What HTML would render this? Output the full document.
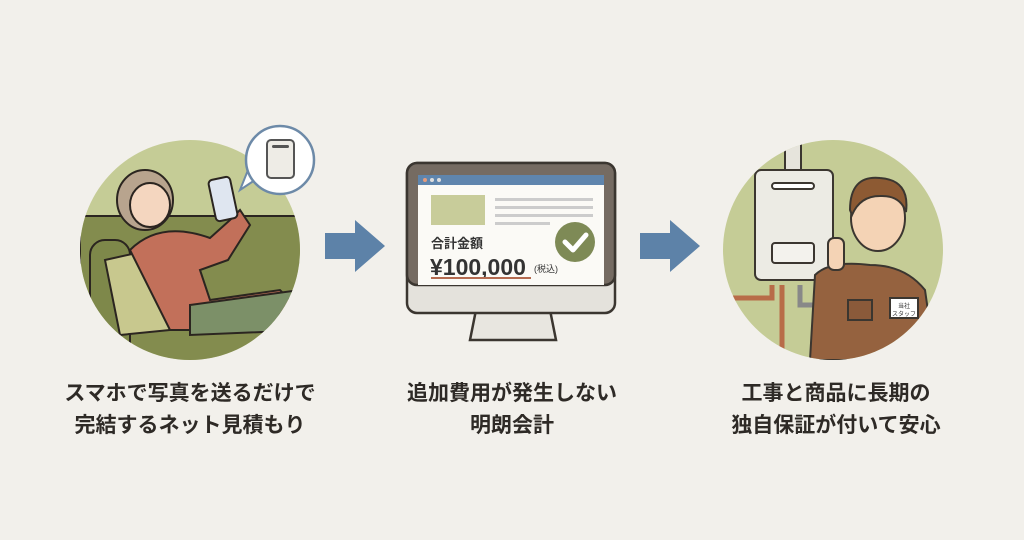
<!DOCTYPE html>
<html><head><meta charset="utf-8"><style>
body{margin:0;background:#f2f0eb;}
svg{display:block}
text{font-family:"Liberation Sans","Noto Sans CJK JP",sans-serif;}
</style></head><body>
<svg width="1024" height="540" viewBox="0 0 1024 540">
<rect width="1024" height="540" fill="#f2f0eb"/>
<defs>
<clipPath id="c1"><circle cx="190" cy="250" r="110"/></clipPath>
<clipPath id="c2"><circle cx="833" cy="250" r="110"/></clipPath>
</defs>
<circle cx="190" cy="250" r="110" fill="#c5cc96"/>
<g clip-path="url(#c1)" stroke="#2b2520" stroke-width="2">
<rect x="80" y="216" width="230" height="150" fill="#838c4e"/>
<rect x="90" y="240" width="40" height="120" rx="15" fill="#7e884a"/>
<path d="M105 260 L150 250 L170 330 L120 335 Z" fill="#c8c88e"/>
<path d="M130 250 Q160 220 210 238 L230 220 L240 210 L250 225 L228 260 L200 270 L210 300 L280 290 L300 310 L200 330 L170 330 Z" fill="#c2705a"/>
<path d="M190 305 L300 290 L310 330 L190 335 Z" fill="#7c9068"/>
<ellipse cx="145" cy="200" rx="28" ry="30" fill="#b8a48e"/>
<ellipse cx="150" cy="205" rx="20" ry="22" fill="#f4d6bf"/>
</g>
<rect x="212" y="178" width="22" height="42" rx="4" transform="rotate(-12 223 199)" fill="#dfe6f0" stroke="#2b2520" stroke-width="2"/>
<path d="M248 170 L240 190 L258 178 Z" fill="#fff" stroke="#6d8aa8" stroke-width="2"/>
<circle cx="280" cy="160" r="34" fill="#fff" stroke="#6d8aa8" stroke-width="2.5"/>
<rect x="267" y="140" width="27" height="38" rx="4" fill="#eeece6" stroke="#555" stroke-width="2"/>
<rect x="272" y="145" width="17" height="3" rx="1.5" fill="#555"/>
<path d="M325 233 H355 V220 L385 246 L355 272 V259 H325 Z" fill="#5d82a8"/>
<path d="M640 233 H670 V220 L700 246 L670 272 V259 H640 Z" fill="#5d82a8"/>
<path d="M480 290 L546 290 L556 340 L470 340 Z" fill="#e8e6e0" stroke="#3b3630" stroke-width="2.5"/>
<rect x="407" y="163" width="208" height="150" rx="10" fill="#e4e2dc" stroke="#3b3630" stroke-width="2.5"/>
<rect x="407" y="163" width="208" height="122" rx="10" fill="#756b62" stroke="#3b3630" stroke-width="2.5"/>
<rect x="418" y="175" width="186" height="110" fill="#fbfaf6"/>
<rect x="418" y="175" width="186" height="10" fill="#5f85ad"/>
<circle cx="425" cy="180" r="2" fill="#e59b7c"/><circle cx="432" cy="180" r="2" fill="#ddd"/><circle cx="439" cy="180" r="2" fill="#ddd"/>
<rect x="431" y="195" width="54" height="30" fill="#c8cc9a"/>
<rect x="495" y="198" width="98" height="3" fill="#ccc"/>
<rect x="495" y="206" width="98" height="3" fill="#ccc"/>
<rect x="495" y="214" width="98" height="3" fill="#ccc"/>
<rect x="495" y="222" width="55" height="3" fill="#ccc"/>
<text x="431" y="248" font-size="13" font-weight="bold" fill="#333">合計金額</text>
<text x="430" y="275" font-size="23" font-weight="bold" fill="#333">¥100,000</text>
<text x="534" y="272" font-size="9" fill="#333">(税込)</text>
<rect x="431" y="277" width="100" height="2" fill="#b46b50"/>
<circle cx="575" cy="242" r="20" fill="#7e8a56"/>
<path d="M565 242 L573 250 L586 235" fill="none" stroke="#fff" stroke-width="5" stroke-linecap="round" stroke-linejoin="round"/>
<circle cx="833" cy="250" r="110" fill="#c5cc96"/>
<g clip-path="url(#c2)" stroke="#3b3630" stroke-width="2">
<rect x="785" y="130" width="16" height="42" fill="#e6e4dc"/>
<path d="M730 298 H772 V285" fill="none" stroke="#b86c48" stroke-width="5"/>
<path d="M782 285 V360" fill="none" stroke="#b86c48" stroke-width="5"/>
<path d="M800 285 V305 H825" fill="none" stroke="#888" stroke-width="5"/>
<rect x="755" y="170" width="78" height="110" rx="6" fill="#ecebe4"/>
<rect x="772" y="183" width="42" height="6" rx="3" fill="#fff"/>
<rect x="772" y="243" width="42" height="20" rx="3" fill="#f3f2ed"/>
<path d="M810 360 L815 275 Q830 260 870 265 Q905 265 925 290 L935 360 Z" fill="#95623f"/>
<rect x="890" y="298" width="28" height="20" fill="#fff"/>
<rect x="848" y="300" width="24" height="20" fill="#8a5a3a"/>
<ellipse cx="878" cy="218" rx="27" ry="33" fill="#f4d3b5"/>
<path d="M850 210 Q850 175 880 178 Q910 180 906 212 Q900 195 880 196 Q860 196 852 215 Z" fill="#8d5a33"/>
<rect x="828" y="238" width="16" height="32" rx="6" fill="#f4d3b5"/>
</g>
<text x="904" y="308" font-size="6" text-anchor="middle" fill="#333">当社</text>
<text x="904" y="316" font-size="6" text-anchor="middle" fill="#333">スタッフ</text>
<g font-size="21" font-weight="bold" fill="#2e2a26" text-anchor="middle">
<text x="190" y="400">スマホで写真を送るだけで</text>
<text x="190" y="432">完結するネット見積もり</text>
<text x="512" y="400">追加費用が発生しない</text>
<text x="512" y="432">明朗会計</text>
<text x="836" y="400">工事と商品に長期の</text>
<text x="836" y="432">独自保証が付いて安心</text>
</g>
</svg>
</body></html>
